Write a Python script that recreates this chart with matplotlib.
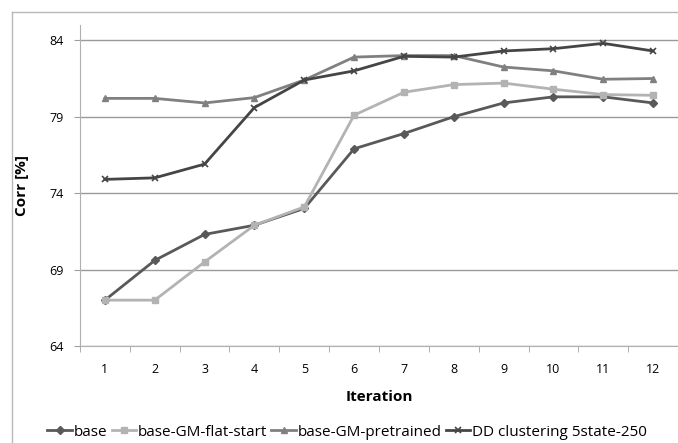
import matplotlib.pyplot as plt
import numpy as np

plt.rcParams['font.family'] = ['Open Sans', 'DejaVu Sans']

iterations = [1, 2, 3, 4, 5, 6, 7, 8, 9, 10, 11, 12]
base = [67.0, 69.6, 71.3, 71.9, 73.0, 76.9, 77.9, 79.0, 79.9, 80.3, 80.3, 79.9]
flat_start = [67.0, 67.0, 69.5, 71.9, 73.1, 79.1, 80.6, 81.1, 81.2, 80.8, 80.45, 80.4]
pretrained = [80.2, 80.2, 79.9, 80.25, 81.4, 82.9, 83.0, 83.0, 82.25, 82.0, 81.45, 81.5]
dd_clust = [74.9, 75.0, 75.9, 79.6, 81.4, 82.0, 82.95, 82.9, 83.3, 83.45, 83.8, 83.3]
yticks = [64, 69, 74, 79, 84]

fig = plt.figure(figsize=(6.78, 4.43), dpi=100)
# chart area border (excel style)
fig.add_artist(plt.Line2D([12/678, 12/678], [0, 1 - 12/443], color='#b8b8b8', lw=1))
fig.add_artist(plt.Line2D([12/678, 1], [1 - 12/443, 1 - 12/443], color='#b8b8b8', lw=1))

ax = fig.add_axes([80/678, 1 - 346/443, 598/678, 321/443])
x = np.arange(len(iterations))
ax.plot(x, base, color='#595959', marker='D', ms=4, lw=2, label='base')
ax.plot(x, flat_start, color='#b3b3b3', marker='s', ms=5, lw=2, label='base-GM-flat-start')
ax.plot(x, pretrained, color='#808080', marker='^', ms=5, lw=2, label='base-GM-pretrained')
ax.plot(x, dd_clust, color='#454545', marker='x', ms=5, mew=1.2, lw=2, label='DD clustering 5state-250')

ax.set_xlim(-0.5, len(iterations) - 0.5)
ax.set_ylim(64, 85)
ax.set_yticks(yticks)
ax.set_xticks(x)
ax.set_xticklabels(iterations)
ax.set_xticks(np.arange(-0.5, len(iterations), 1), minor=True)
ax.tick_params(axis='x', which='major', length=0, pad=12, labelsize=9)
ax.tick_params(axis='x', which='minor', length=4, color='#a0a0a0', direction='out')
ax.tick_params(axis='y', length=4, color='#a0a0a0', labelsize=9, pad=8)
ax.yaxis.grid(True, color='#9a9a9a', lw=1)
ax.set_axisbelow(True)
for s in ['top', 'right']:
    ax.spines[s].set_visible(False)
ax.spines['left'].set_color('#b0b0b0')
ax.spines['bottom'].set_color('#b0b0b0')

ax.set_ylabel('Corr [%]', fontsize=11, fontweight='bold', labelpad=14)
ax.set_xlabel('Iteration', fontsize=11, fontweight='bold', labelpad=10)

fig.legend(loc='center', bbox_to_anchor=(0.512, 1 - 432/443), ncol=4, frameon=False,
           fontsize=11, handlelength=1.6, handletextpad=0.1, columnspacing=0.3)

fig.savefig('out.png', dpi=100)
